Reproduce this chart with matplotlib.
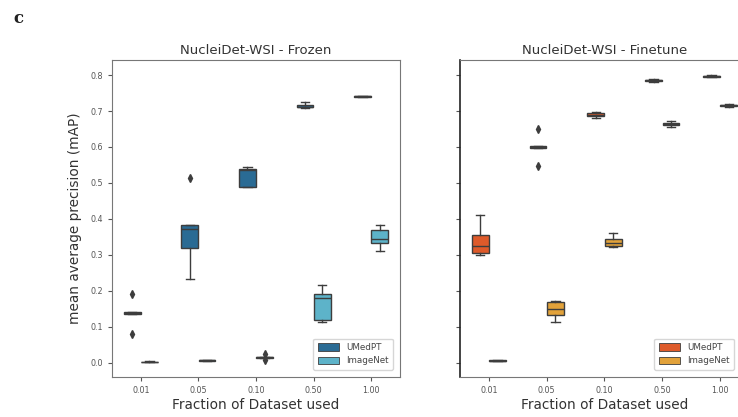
import numpy as np
import matplotlib
matplotlib.use("Agg")
import matplotlib.pyplot as plt
from matplotlib.patches import Patch

fractions = ["0.01", "0.05", "0.10", "0.50", "1.00"]
models = ["UMedPT", "ImageNet"]

# five runs per box
frozen_umedpt = [
    [0.080, 0.135, 0.137, 0.140, 0.190],
    [0.233, 0.320, 0.372, 0.383, 0.513],
    [0.488, 0.490, 0.535, 0.540, 0.545],
    [0.708, 0.710, 0.712, 0.716, 0.725],
    [0.739, 0.740, 0.741, 0.742, 0.743],
]
frozen_imagenet = [
    [0.001, 0.002, 0.003, 0.003, 0.004],
    [0.004, 0.005, 0.006, 0.006, 0.007],
    [0.006, 0.014, 0.015, 0.016, 0.024],
    [0.112, 0.118, 0.180, 0.190, 0.217],
    [0.311, 0.333, 0.345, 0.369, 0.383],
]
finetune_umedpt = [
    [0.300, 0.305, 0.325, 0.355, 0.411],
    [0.547, 0.597, 0.600, 0.602, 0.650],
    [0.682, 0.685, 0.690, 0.695, 0.698],
    [0.780, 0.783, 0.785, 0.787, 0.789],
    [0.794, 0.796, 0.797, 0.798, 0.800],
]
finetune_imagenet = [
    [0.004, 0.005, 0.005, 0.006, 0.006],
    [0.112, 0.133, 0.150, 0.168, 0.172],
    [0.322, 0.324, 0.333, 0.344, 0.362],
    [0.656, 0.660, 0.665, 0.668, 0.672],
    [0.712, 0.714, 0.716, 0.717, 0.719],
]

frozen_colors = ["#2a6b94", "#5db3c9"]
finetune_colors = ["#de5a2a", "#e2a23a"]
edge = "#3d3d3d"

fig = plt.figure(figsize=(7.38, 4.17), dpi=100)
fig.text(0.018, 0.955, "c", fontsize=12, family="DejaVu Serif", fontweight="bold",
         va="center", color="#222222")

ax1 = fig.add_axes([0.1518, 0.0959, 0.3902, 0.7602])
ax2 = fig.add_axes([0.6233, 0.0959, 0.3916, 0.7602], sharey=ax1)


def draw(ax, groups, colors, title, legend_anchor):
    x = np.arange(len(fractions))
    for k, data in enumerate(groups):
        pos = x + (k - 0.5) * 0.3
        ax.boxplot(data, positions=pos, widths=0.29, patch_artist=True,
                   manage_ticks=False,
                   boxprops=dict(facecolor=colors[k], edgecolor=edge, linewidth=1.0),
                   medianprops=dict(color=edge, linewidth=1.0),
                   whiskerprops=dict(color=edge, linewidth=1.0),
                   capprops=dict(color=edge, linewidth=1.0),
                   flierprops=dict(marker="d", markerfacecolor=edge,
                                   markeredgecolor=edge, markersize=4))
    ax.set_xticks(x)
    ax.set_xticklabels(fractions)
    ax.set_xlim(-0.5, len(fractions) - 0.5)
    ax.set_title(title, fontsize=9.5, color="#333333", pad=4)
    ax.set_xlabel("Fraction of Dataset used", fontsize=9.8, color="#333333", labelpad=2)
    ax.tick_params(labelsize=5.8, colors="#555555", length=3)
    for sp in ax.spines.values():
        sp.set_edgecolor("#777777")
    handles = [Patch(facecolor=colors[k], edgecolor=edge, linewidth=0.6, label=m)
               for k, m in enumerate(models)]
    ax.legend(handles=handles, loc="lower right", bbox_to_anchor=legend_anchor,
              bbox_transform=fig.transFigure, fontsize=6.3, frameon=True,
              edgecolor="#cccccc", handlelength=2.4, handleheight=0.9,
              labelcolor="#444444", borderpad=0.5)


draw(ax1, [frozen_umedpt, frozen_imagenet], frozen_colors, "NucleiDet-WSI - Frozen",
     (0.538, 0.103))
draw(ax2, [finetune_umedpt, finetune_imagenet], finetune_colors, "NucleiDet-WSI - Finetune",
     (1.0, 0.103))

ax1.set_ylim(-0.04, 0.842)
ax1.set_yticks(np.arange(0, 0.81, 0.1))
ax1.set_ylabel("mean average precision (mAP)", fontsize=9.8, color="#333333", labelpad=6)
ax2.tick_params(axis="y", labelleft=False)
ax2.spines["left"].set_edgecolor("#222222")
ax2.spines["left"].set_linewidth(1.2)

fig.savefig("out.png", dpi=100)
